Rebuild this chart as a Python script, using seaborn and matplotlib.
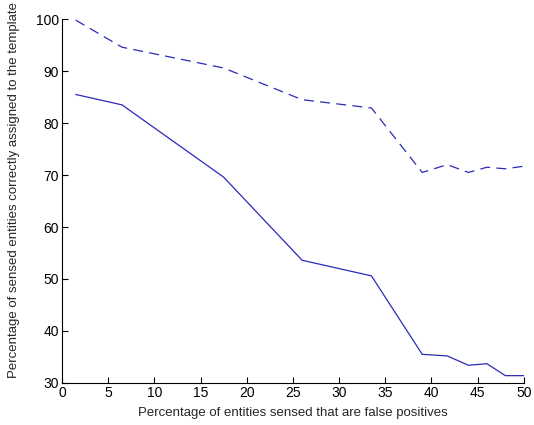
import numpy as np
import pandas as pd
import matplotlib
matplotlib.use("Agg")
import matplotlib.pyplot as plt
import seaborn as sns

# values
false_pos = [1.5, 6.5, 17.5, 26, 33.5, 39, 41.7, 44, 46, 48, 50]
dashed_vals = [99.8, 94.6, 90.6, 84.5, 82.9, 70.5, 72.0, 70.5, 71.5, 71.2, 71.7]
solid_vals = [85.5, 83.5, 69.6, 53.6, 50.6, 35.5, 35.2, 33.4, 33.7, 31.4, 31.4]
x_ticks = list(range(0, 51, 5))
y_ticks = list(range(30, 101, 10))

sns.set_style("ticks")
plt.rcParams['font.family'] = ['Liberation Sans', 'DejaVu Sans']
plt.rcParams['xtick.direction'] = 'in'
plt.rcParams['ytick.direction'] = 'in'

df = pd.DataFrame({
    'x': false_pos * 2,
    'y': dashed_vals + solid_vals,
    'series': ['dashed'] * len(false_pos) + ['solid'] * len(false_pos),
})

fig = plt.figure(figsize=(5.34, 4.25), dpi=100)
ax = fig.add_axes([0.116, 0.099, 0.865, 0.856])

line_color = '#2a2ab8'
sns.lineplot(data=df[df['series'] == 'dashed'], x='x', y='y', ax=ax,
             color=line_color, linewidth=0.9, estimator=None, sort=False)
ax.lines[-1].set_dashes((8, 5))
sns.lineplot(data=df[df['series'] == 'solid'], x='x', y='y', ax=ax,
             color=line_color, linewidth=0.9, estimator=None, sort=False)

ax.set_xlim(0, 50)
ax.set_ylim(30, 100)
ax.set_xticks(x_ticks)
ax.set_yticks(y_ticks)
ax.tick_params(labelsize=10, length=4, width=0.8, pad=2, colors='black')
for side in ['top', 'right']:
    ax.spines[side].set_visible(False)
for side in ['left', 'bottom']:
    ax.spines[side].set_linewidth(0.8)
    ax.spines[side].set_color('black')

ax.set_xlabel('Percentage of entities sensed that are false positives', fontsize=9.5, labelpad=5)
ax.set_ylabel('Percentage of sensed entities correctly assigned to the template', fontsize=9.5)
ax.yaxis.set_label_coords(-0.09, 0.53)

fig.savefig('out.png', dpi=100, facecolor='white')
